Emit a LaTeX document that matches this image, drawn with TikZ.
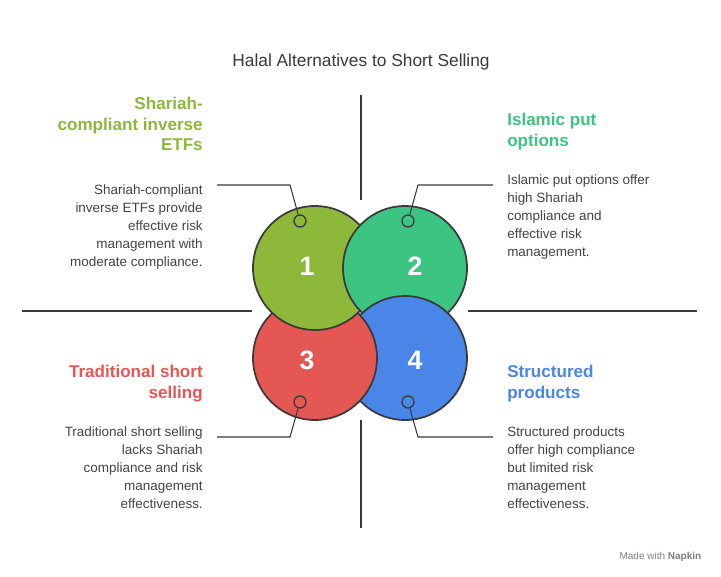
\documentclass[tikz,border=0pt]{standalone}
\usepackage{fontspec}
\setmainfont{Liberation Sans}
\definecolor{cgreen}{HTML}{8DB83A}
\definecolor{cteal}{HTML}{3CC482}
\definecolor{cred}{HTML}{E55753}
\definecolor{cblue}{HTML}{4A86E8}
\definecolor{cline}{HTML}{3A3A3A}
\definecolor{ctext}{HTML}{444444}
\begin{document}
\begin{tikzpicture}[x=0.75pt, y=-0.75pt,
petal/.style={draw=cline, line width=1.3pt},
num/.style={text=white, font=\fontsize{20}{24}\selectfont\bfseries},
pin/.style={draw=cline, line width=1pt, fill=none, circle, inner sep=0, minimum size=9pt},
leader/.style={cline, line width=0.8pt},
heading/.style={font=\fontsize{12.8}{15.5}\selectfont\bfseries, align=#1, inner sep=0},
body/.style={text=ctext, font=\fontsize{10.1}{13.5}\selectfont, align=#1, inner sep=0}]
\useasboundingbox[fill=white] (0,0) rectangle (721,576);

% TITLE
\node[font=\fontsize{13}{15}\selectfont, text=cline] (title) at (361,62) {Halal Alternatives to Short Selling};

% AXES
\coordinate (Ntop) at (361,95);  \coordinate (Nbot) at (361,200);
\coordinate (Stop) at (361,420); \coordinate (Sbot) at (361,528);
\coordinate (Wl) at (22,311);    \coordinate (Wr) at (252,311);
\coordinate (El) at (468,311);   \coordinate (Er) at (697,311);
\draw[leader] (Ntop)--(Nbot);
\draw[leader] (Stop)--(Sbot);
\draw[leader] (Wl)--(Wr);
\draw[leader] (El)--(Er);

% CIRCLES
\draw[petal, fill=cred] (315,358) circle[radius=62];
\draw[petal, fill=cgreen] (315,268) circle[radius=62];
\draw[petal, fill=cteal] (405,268) circle[radius=62];
\draw[petal, fill=cblue] (405,358) circle[radius=62];
\begin{scope}
\clip (405,358) circle[radius=64];
\draw[petal, fill=cred] (315,358) circle[radius=62];
\end{scope}
\node[num] (n1) at (307,266) {1};
\node[num] (n2) at (415,266) {2};
\node[num] (n3) at (307,360) {3};
\node[num] (n4) at (415,360) {4};

% PINS AND LEADERS
\node[pin] (p1) at (300,221) {};
\node[pin] (p2) at (408,221) {};
\node[pin] (p3) at (300,402) {};
\node[pin] (p4) at (408,402) {};
\coordinate (k1) at (290,185); \coordinate (e1) at (217,185);
\coordinate (k2) at (418,185); \coordinate (e2) at (493,185);
\coordinate (k3) at (290,437); \coordinate (e3) at (217,437);
\coordinate (k4) at (418,437); \coordinate (e4) at (493,437);
\draw[leader] (p1)--(k1)--(e1);
\draw[leader] (p2)--(k2)--(e2);
\draw[leader] (p3)--(k3)--(e3);
\draw[leader] (p4)--(k4)--(e4);

% TEXTS
\node[heading=right, text=cgreen, anchor=north east] (h1) at (203,97) {Shariah-\\compliant inverse\\ETFs};
\node[body=right, anchor=north east] (b1) at (203,184) {Shariah-compliant\\inverse ETFs provide\\effective risk\\management with\\moderate compliance.};
\node[heading=left, text=cteal, anchor=north west] (h2) at (507,113) {Islamic put\\options};
\node[body=left, anchor=north west] (b2) at (507,174) {Islamic put options offer\\high Shariah\\compliance and\\effective risk\\management.};
\node[heading=right, text=cred, anchor=north east] (h3) at (203,365) {Traditional short\\selling};
\node[body=right, anchor=north east] (b3) at (203,426) {Traditional short selling\\lacks Shariah\\compliance and risk\\management\\effectiveness.};
\node[heading=left, text=cblue, anchor=north west] (h4) at (507,365) {Structured\\products};
\node[body=left, anchor=north west] (b4) at (507,426) {Structured products\\offer high compliance\\but limited risk\\management\\effectiveness.};

% FOOTER
\node[text=gray, font=\fontsize{7.5}{9}\selectfont, anchor=east] (madewith) at (706,557) {Made with \textbf{Napkin}};
\end{tikzpicture}
\end{document}
